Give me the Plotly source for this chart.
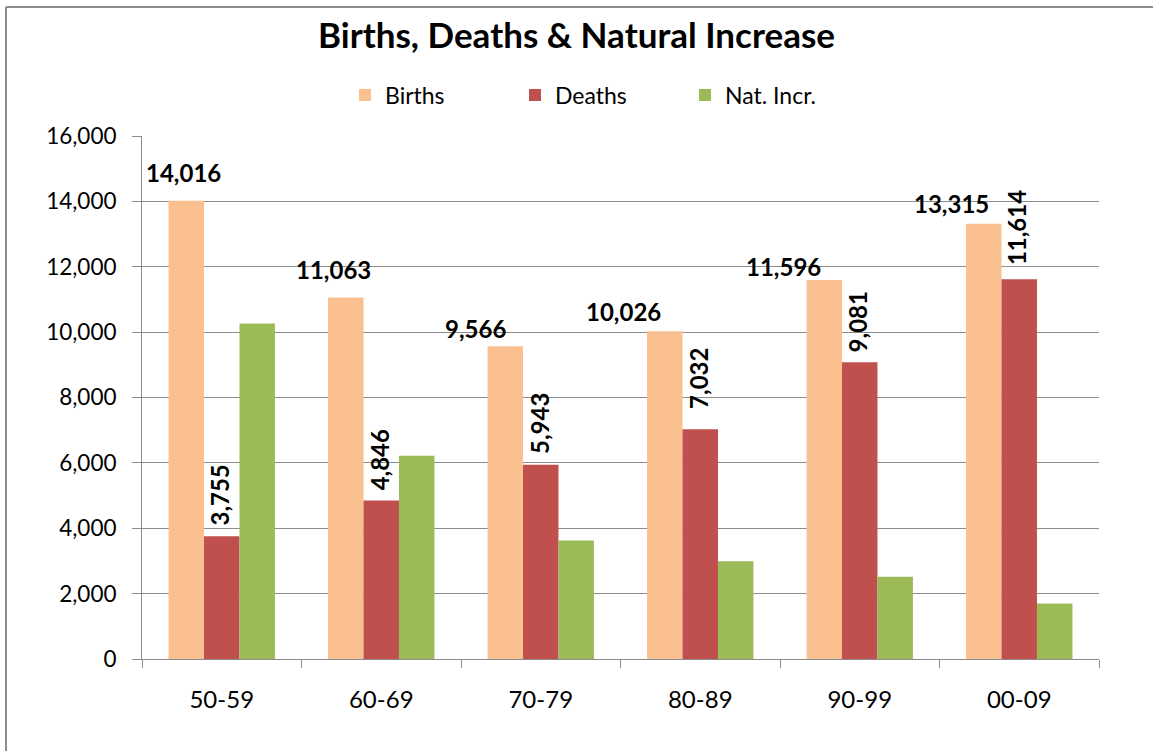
import plotly.graph_objects as go

categories = ["50-59", "60-69", "70-79", "80-89", "90-99", "00-09"]
births = [14016, 11063, 9566, 10026, 11596, 13315]
deaths = [3755, 4846, 5943, 7032, 9081, 11614]
nat_incr = [10261, 6217, 3623, 2994, 2515, 1701]

# label placement offsets (pixels) mimicking the manually placed Excel labels
births_label_dx = [-38, -48, -65, -77, -76, -68]
births_label_dy = [28, 28, 18, 20, 13, 20]
deaths_label_dy = [9, 8, 9, 18, 8, 12]

W, H = 1153, 751
ML, MR, MT, MB = 142, 54, 136, 92
PW, PH = W - ML - MR, H - MT - MB

FONT = "Lato"
GRID = "#8c8c8c"

fig = go.Figure()
fig.add_trace(go.Bar(name="Births", x=categories, y=births, marker_color="#FAC090",
                     marker_line_width=0))
fig.add_trace(go.Bar(name="Deaths", x=categories, y=deaths, marker_color="#C0504D",
                     marker_line_width=0))
fig.add_trace(go.Bar(name="Nat. Incr.", x=categories, y=nat_incr, marker_color="#9BBB59",
                     marker_line_width=0))

annotations = []
for c, v, dx, dy in zip(categories, births, births_label_dx, births_label_dy):
    annotations.append(dict(x=c, y=v, xref="x", yref="y", text=f"<b>{v:,}</b>",
                            showarrow=False, xshift=dx, yshift=dy, yanchor="middle",
                            font=dict(family=FONT, size=24, color="#000000")))
for c, v, dy in zip(categories, deaths, deaths_label_dy):
    annotations.append(dict(x=c, y=v, xref="x", yref="y", text=f"<b>{v:,}</b>",
                            showarrow=False, textangle=-90, xshift=-2, yshift=dy,
                            yanchor="bottom",
                            font=dict(family=FONT, size=24, color="#000000")))

# chart frame (left and top edges visible)
x0 = (6 - ML) / PW
y_top = (H - 7 - MB) / PH
shapes = [
    dict(type="line", xref="paper", yref="paper", x0=x0, x1=x0, y0=(0 - MB) / PH - 0.01, y1=y_top,
         line=dict(color="#8c8c8c", width=2)),
    dict(type="line", xref="paper", yref="paper", x0=x0, x1=(W + 5 - ML) / PW, y0=y_top, y1=y_top,
         line=dict(color="#8c8c8c", width=2)),
]

fig.update_layout(
    width=W, height=H,
    margin=dict(l=ML, r=MR, t=MT, b=MB, autoexpand=False),
    paper_bgcolor="white", plot_bgcolor="white",
    barmode="group", bargap=0.333, bargroupgap=0,
    title=dict(text="<b>Births, Deaths & Natural Increase</b>", x=0.5, xanchor="center",
               y=(H - 36) / H, yanchor="middle", yref="container",
               font=dict(family=FONT, size=35, color="#000000")),
    legend=dict(orientation="h", x=(600 - ML) / PW, xanchor="center",
                y=(H - MB - 95) / PH, yanchor="middle",
                font=dict(family=FONT, size=23, color="#000000"),
                entrywidth=125, entrywidthmode="pixels", bgcolor="rgba(0,0,0,0)"),
    font=dict(family=FONT, size=23, color="#000000"),
    annotations=annotations,
    shapes=shapes,
    showlegend=True,
)

fig.update_yaxes(range=[0, 16000], dtick=2000, tickformat=",d",
                 showgrid=True, gridcolor=GRID, gridwidth=1,
                 showline=True, linecolor=GRID, linewidth=1,
                 ticks="outside", ticklen=9, tickcolor=GRID, ticklabelstandoff=11,
                 tickfont=dict(family=FONT, size=22.5, color="#000000"),
                 zeroline=False, fixedrange=True)
fig.update_xaxes(type="category", showline=True, linecolor=GRID, linewidth=1,
                 ticks="outside", ticklen=8, tickcolor=GRID, tickson="boundaries",
                 ticklabelstandoff=19,
                 tickfont=dict(family=FONT, size=24, color="#000000"),
                 showgrid=False, fixedrange=True)

fig.write_html("out.html", config={"displayModeBar": False},
               post_script="document.body.style.margin='0';")
